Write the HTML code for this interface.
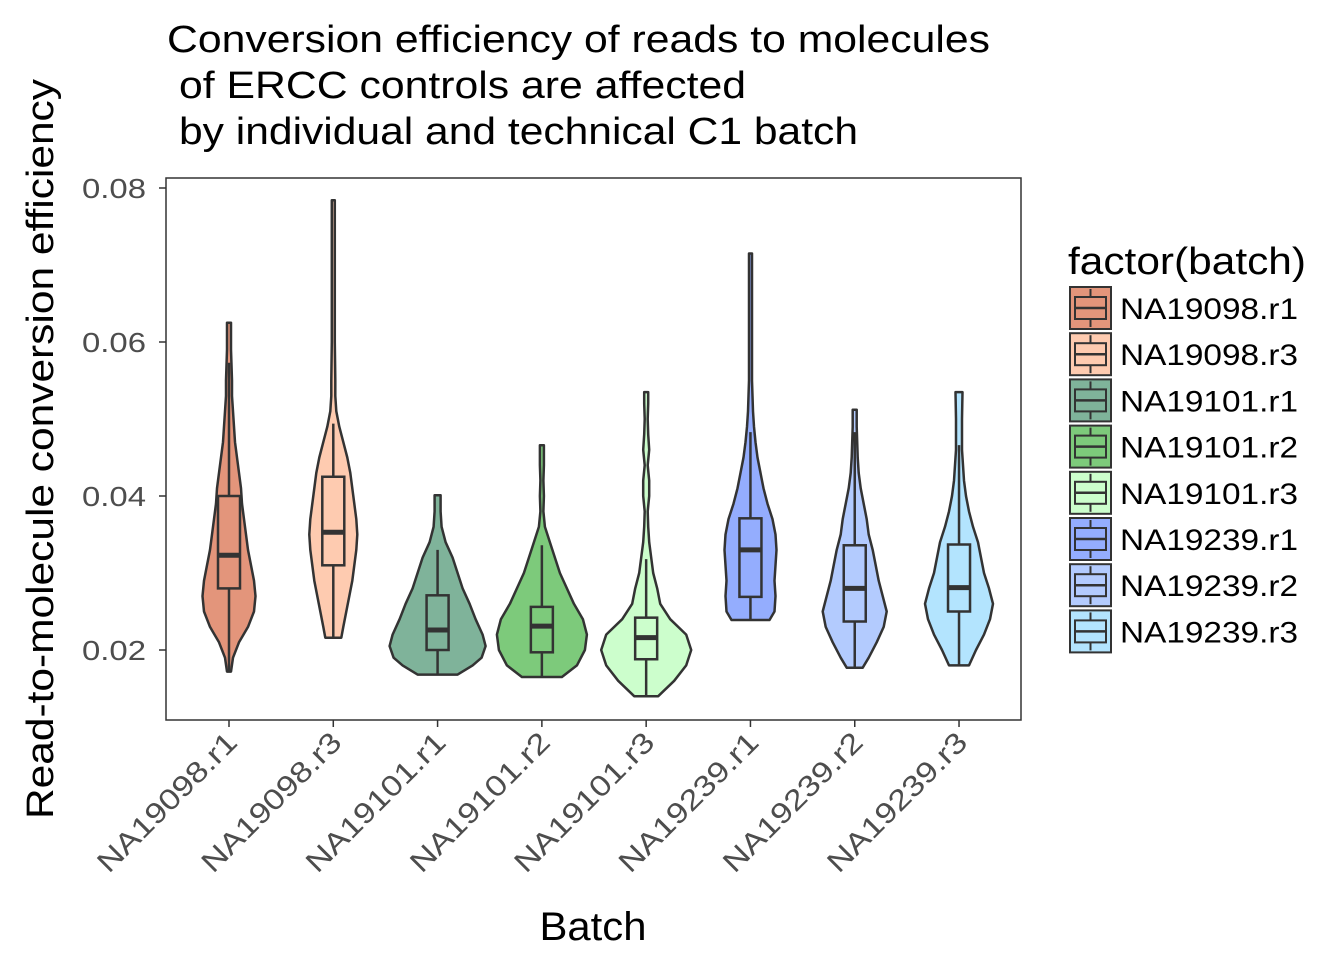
<!DOCTYPE html>
<html><head><meta charset="utf-8">
<style>
html,body{margin:0;padding:0;background:#fff;}
svg{display:block;font-family:"Liberation Sans",Arial,sans-serif;}
</style></head>
<body>
<svg id="chart" width="1344" height="960" viewBox="0 0 1344 960">
  <g font-size="38" fill="#000">
    <text x="167" y="52" textLength="823" lengthAdjust="spacingAndGlyphs">Conversion efficiency of reads to molecules</text>
    <text x="179" y="98" textLength="567" lengthAdjust="spacingAndGlyphs">of ERCC controls are affected</text>
    <text x="179" y="144" textLength="679" lengthAdjust="spacingAndGlyphs">by individual and technical C1 batch</text>
  </g>
  <rect x="166" y="178" width="855" height="542" fill="#fff" stroke="#333" stroke-width="1.5"/>
  <g id="yaxis"></g>
  <g id="xaxis"></g>
  <g id="violins"></g>
  <text x="593" y="940" font-size="40" text-anchor="middle" textLength="107" lengthAdjust="spacingAndGlyphs">Batch</text>
  <text transform="translate(53,449) rotate(-90)" font-size="38" text-anchor="middle" textLength="740" lengthAdjust="spacingAndGlyphs">Read-to-molecule conversion efficiency</text>
  <text x="1068" y="274" font-size="38" textLength="238" lengthAdjust="spacingAndGlyphs">factor(batch)</text>
  <g id="legend"></g>
</svg>
<script>
const categories = ["NA19098.r1","NA19098.r3","NA19101.r1","NA19101.r2","NA19101.r3","NA19239.r1","NA19239.r2","NA19239.r3"];
const colors = ["#E3957B","#FECBB0","#7FB39A","#7DCA7B","#CCFECC","#94ADFE","#B3CBFE","#B3E4FE"];
const yTicks = [0.02,0.04,0.06,0.08];
const yTickLabels = ["0.02","0.04","0.06","0.08"];
const q1 = [0.0280,0.0310,0.0200,0.0197,0.0188,0.0269,0.0237,0.0250];
const median = [0.0323,0.0353,0.0226,0.0231,0.0216,0.0330,0.0280,0.0281];
const q3 = [0.0400,0.0425,0.0271,0.0256,0.0242,0.0371,0.0336,0.0337];
const whiskerLow = [0.0172,0.0216,0.0168,0.0165,0.0140,0.0239,0.0177,0.0180];
const whiskerHigh = [0.0573,0.0494,0.0330,0.0336,0.0318,0.0483,0.0483,0.0466];
const densityY = [
 [0.0172,0.019,0.021,0.023,0.025,0.027,0.029,0.031,0.033,0.035,0.037,0.039,0.041,0.043,0.045,0.047,0.049,0.051,0.053,0.055,0.057,0.059,0.061,0.0625],
 [0.0216,0.023,0.025,0.027,0.029,0.031,0.033,0.035,0.037,0.039,0.041,0.043,0.045,0.047,0.049,0.051,0.053,0.055,0.060,0.070,0.0784],
 [0.0168,0.018,0.019,0.0205,0.022,0.024,0.026,0.028,0.030,0.032,0.034,0.036,0.038,0.0401],
 [0.0165,0.018,0.020,0.022,0.024,0.026,0.028,0.030,0.032,0.034,0.036,0.038,0.040,0.042,0.044,0.0466],
 [0.014,0.016,0.018,0.020,0.022,0.024,0.026,0.028,0.030,0.032,0.034,0.036,0.038,0.040,0.042,0.044,0.046,0.048,0.050,0.052,0.0535],
 [0.0239,0.025,0.027,0.029,0.031,0.033,0.035,0.037,0.039,0.041,0.043,0.045,0.047,0.049,0.051,0.053,0.055,0.060,0.0715],
 [0.0177,0.019,0.021,0.023,0.025,0.027,0.029,0.031,0.033,0.035,0.037,0.039,0.041,0.043,0.045,0.047,0.049,0.0512],
 [0.018,0.020,0.022,0.024,0.026,0.028,0.030,0.032,0.034,0.036,0.038,0.040,0.042,0.044,0.046,0.048,0.050,0.0535]
];
const density = [
 [0.04,0.08,0.2,0.38,0.5,0.53,0.5,0.44,0.38,0.34,0.3,0.26,0.24,0.2,0.16,0.12,0.1,0.08,0.06,0.06,0.05,0.04,0.04,0.04],
 [0.16,0.2,0.26,0.32,0.38,0.42,0.46,0.48,0.46,0.42,0.38,0.34,0.28,0.2,0.12,0.06,0.04,0.04,0.03,0.03,0.03],
 [0.4,0.7,0.88,0.96,0.9,0.76,0.64,0.5,0.4,0.3,0.16,0.08,0.06,0.06],
 [0.4,0.7,0.86,0.9,0.82,0.64,0.5,0.36,0.26,0.16,0.06,0.03,0.04,0.03,0.04,0.04],
 [0.24,0.56,0.8,0.9,0.8,0.48,0.28,0.22,0.14,0.1,0.06,0.04,0.03,0.06,0.06,0.03,0.06,0.04,0.03,0.04,0.04],
 [0.38,0.48,0.5,0.48,0.5,0.52,0.5,0.44,0.34,0.26,0.2,0.14,0.1,0.07,0.05,0.04,0.03,0.03,0.03],
 [0.16,0.28,0.44,0.58,0.64,0.56,0.48,0.42,0.36,0.28,0.24,0.18,0.12,0.08,0.06,0.05,0.04,0.04],
 [0.2,0.34,0.5,0.62,0.68,0.6,0.5,0.44,0.38,0.28,0.2,0.14,0.1,0.08,0.06,0.06,0.06,0.07]
];
const NS="http://www.w3.org/2000/svg";
function yScale(v){ return 650-(v-0.02)*7700; }
function xScale(i){ return 229 + i*104.29; }
const widthScale=50, boxHalf=11;
function mk(tag,attrs,parent){const e=document.createElementNS(NS,tag);for(const k in attrs)e.setAttribute(k,attrs[k]);parent.appendChild(e);return e;}
const ya=document.getElementById('yaxis');
yTicks.forEach((t,i)=>{
  const y=yScale(t);
  const l=mk('line',{x1:159,x2:166,y1:y,y2:y,stroke:'#333','stroke-width':1.5},ya);
  
  
  const tx=mk('text',{x:146,y:y+10,'font-size':28,fill:'#4d4d4d','text-anchor':'end',textLength:64,lengthAdjust:'spacingAndGlyphs'},ya);
  tx.textContent=yTickLabels[i];
  
  
});
const xa=document.getElementById('xaxis');
categories.forEach((c,i)=>{
  const x=xScale(i);
  const l=mk('line',{x1:x,x2:x,y1:720,y2:727,stroke:'#333','stroke-width':1.5},xa);
  
  
  const tx=mk('text',{transform:`translate(${x+10},${744}) rotate(-45)`,'font-size':29,fill:'#4d4d4d','text-anchor':'end',textLength:184,lengthAdjust:'spacingAndGlyphs'},xa);
  tx.textContent=c;
  
  
});
const vg=document.getElementById('violins');
categories.forEach((c,i)=>{
  const cx=xScale(i);
  const g=mk('g',{},vg);
  
  
  const ys=densityY[i], ds=density[i];
  let right=[],left=[];
  for(let k=0;k<ys.length;k++){const y=yScale(ys[k]);const w=Math.max(ds[k]*widthScale,1.5);right.push([cx+w,y]);left.push([cx-w,y]);}
  const pts=right.concat(left.reverse());
  const p=mk('path',{d:'M'+pts.map(q=>q[0].toFixed(1)+','+q[1].toFixed(1)).join('L')+'Z',fill:colors[i],stroke:'#333','stroke-width':2.5,'stroke-linejoin':'round'},g);
  
  
  const w=mk('line',{x1:cx,x2:cx,y1:yScale(whiskerLow[i]),y2:yScale(whiskerHigh[i]),stroke:'#333','stroke-width':2.5},g);
  
  
  const b=mk('rect',{x:cx-boxHalf,y:yScale(q3[i]),width:boxHalf*2,height:yScale(q1[i])-yScale(q3[i]),fill:colors[i],stroke:'#333','stroke-width':2.5},g);
  
  
  const m=mk('line',{x1:cx-boxHalf,x2:cx+boxHalf,y1:yScale(median[i]),y2:yScale(median[i]),stroke:'#333','stroke-width':5},g);
  
  
});
const lg=document.getElementById('legend');
categories.forEach((c,i)=>{
  const y=287+i*46.2;
  const g=mk('g',{},lg);
  
  
  mk('rect',{x:1070,y:y,width:41,height:42,fill:colors[i],stroke:'#333','stroke-width':2},g);
  mk('line',{x1:1090.5,x2:1090.5,y1:y+2,y2:y+40,stroke:'#333','stroke-width':2},g);
  mk('rect',{x:1075,y:y+10,width:31,height:22,fill:colors[i],stroke:'#333','stroke-width':2},g);
  mk('line',{x1:1075,x2:1106,y1:y+21,y2:y+21,stroke:'#333','stroke-width':2.5},g);
  const t=mk('text',{x:1120,y:y+32,'font-size':30,fill:'#000',textLength:178,lengthAdjust:'spacingAndGlyphs'},g);
  t.textContent=c;
  
  
});
</script>
</body></html>
